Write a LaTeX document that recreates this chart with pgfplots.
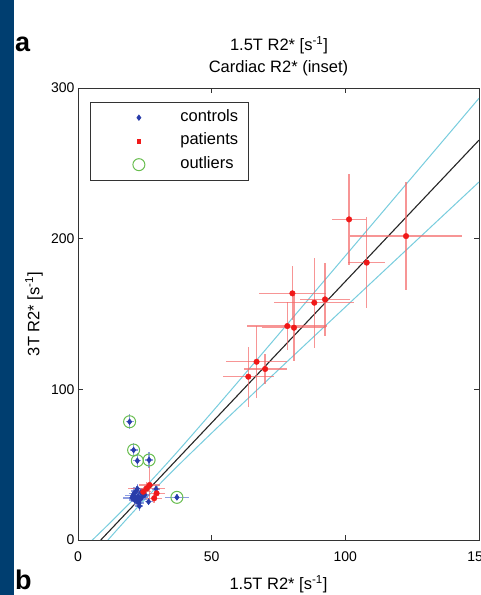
\documentclass[border=0pt]{standalone}
\usepackage{fontspec}
\setmainfont{Liberation Sans}
\usepackage{pgfplots}
\pgfplotsset{compat=1.18}
\usepackage{pgfplotstable}

\definecolor{panelblue}{RGB}{0,62,112}
\definecolor{ctrlblue}{RGB}{40,60,170}
\definecolor{ctrlbar}{RGB}{105,125,215}
\definecolor{patred}{RGB}{240,25,25}
\definecolor{patbar}{RGB}{245,105,105}
\definecolor{outgreen}{RGB}{105,190,80}
\definecolor{bandcyan}{RGB}{120,205,222}

\newcommand\ticklbl{\fontsize{14}{16.8}\selectfont}
\newcommand\lbl{\fontsize{16.5}{19.8}\selectfont}

% healthy volunteers: 1.5T R2*, 3T R2*, and their spreads
\pgfplotstableread{
x    y    ex   ey
19.3 78.5 1.5  5
20.8 59.7 1.5  4.5
22.2 52.6 1.5  5
26.6 53.1 1.5  5
37.0 28.3 4.4  2
20.5 29.5 3    3
21.0 31.0 2    4
21.5 28.0 2.5  3
21.8 32.5 2    3.5
22.0 26.0 2    4
22.5 29.0 3    3
22.8 24.5 2    3.5
23.2 27.0 2.5  3
23.5 31.5 2    3
22.2 34.0 2.5  3
24.0 28.5 2    2.5
21.2 26.5 2    3
26.4 25.4 1.5  2.5
29.2 33.8 1.5  2.5
25.0 30.0 2    3
20.2 28.0 3.5  2.5
23.0 22.5 1.5  3
}\controls

% patients
\pgfplotstableread{
x     y     ex   ey
63.7  108.4 9.5  20
66.8  118.3 11.5 24
70.0  113.5 8    10
78.3  142.0 15   16
80.8  140.9 12   22
80.2  163.7 12.5 18
88.4  157.5 15   30
92.4  159.7 9.3  24
101.4 212.8 6.5  30
108.0 184.1 7    30
122.7 201.7 21   36
24.4  32.0  3    3
25.7  34.3  7    4
26.8  36.5  4    12
29.4  31.0  3    3
28.5  27.7  3    3
}\patients

% points flagged as outliers
\pgfplotstableread{
x    y
19.3 78.5
20.8 59.7
22.2 52.6
26.6 53.1
37.0 28.3
}\outliers

\begin{document}
\begin{tikzpicture}
\useasboundingbox (0pt,0pt) rectangle (481pt,595pt);
\fill[white] (0pt,0pt) rectangle (481pt,595pt);
\fill[panelblue] (0pt,0pt) rectangle (14pt,595pt);

\begin{axis}[
  at={(78pt,55pt)}, anchor=south west,
  scale only axis, width=401pt, height=452pt,
  xmin=0, xmax=150, ymin=0, ymax=300,
  xtick={0,50,100,150}, ytick={0,100,200,300},
  tick align=inside, major tick length=5pt,
  axis line style={black!80, line width=0.8pt},
  every tick/.style={black!80, line width=0.8pt},
  tick label style={font=\ticklbl},
  /pgf/number format/assume math mode=true,
  xticklabel style={yshift=-8pt},
  title={Cardiac R2* (inset)},
  title style={font=\lbl, at={(axis description cs:0.5,1.0442)}, anchor=center, yshift=-6pt},
  xlabel={1.5T R2* [s\textsuperscript{-1}]},
  xlabel style={font=\lbl, at={(axis description cs:0.5,-0.0973)}, anchor=center},
  ylabel={3T R2* [s\textsuperscript{-1}]},
  ylabel style={font=\lbl, at={(axis description cs:-0.11,0.5)}, anchor=center},
  legend cell align=left,
  legend style={
    at={(axis description cs:0.0299,0.969)}, anchor=north west,
    draw=black!80, line width=0.8pt, font=\lbl,
    inner xsep=10pt, inner ysep=8pt, row sep=9pt,
    nodes={inner sep=0pt, text height=11pt, text depth=3.5pt},
  },
]
% regression line with its confidence band
\addplot[bandcyan, line width=1pt, smooth, forget plot] coordinates {
  (0,-9.20) (5,-0.67) (10,7.95) (15,16.71) (20,25.67) (25,34.90) (30,44.43)
  (35,54.23) (40,64.23) (50,84.60) (60,105.24) (70,126.00) (80,146.82)
  (90,167.69) (100,188.58) (110,209.48) (125,240.86) (140,272.25) (150,293.19)};
\addplot[bandcyan, line width=1pt, smooth, forget plot] coordinates {
  (0,-22.80) (5,-12.57) (10,-2.43) (15,7.57) (20,17.37) (25,26.90) (30,36.13)
  (35,45.09) (40,53.85) (50,71.00) (60,87.88) (70,104.64) (80,121.34)
  (90,137.99) (100,154.62) (110,171.24) (125,196.14) (140,221.03) (150,237.61)};
\addplot[black!85, line width=1.1pt, forget plot] coordinates {(0,-16) (150,265.4)};

\addplot[only marks, mark=diamond*, mark size=3pt, color=ctrlblue,
  legend image code/.code={\path (0pt,0pt) (79pt,0pt);
    \draw[ctrlblue, mark=diamond*, mark size=2.6pt] plot coordinates {(38pt,0pt)};},
  error bars/.cd, x dir=both, x explicit, y dir=both, y explicit, error mark=none,
  error bar style={ctrlbar, line width=1.4pt, opacity=0.75}]
  table[x=x, y=y, x error=ex, y error=ey] {\controls};
\addlegendentry{controls}

\addplot[only marks, mark=*, mark size=2.8pt, color=patred,
  legend image code/.code={\path (0pt,0pt) (79pt,0pt);
    \draw[patred, mark=square*, mark size=1.9pt] plot coordinates {(38pt,0pt)};},
  error bars/.cd, x dir=both, x explicit, y dir=both, y explicit, error mark=none,
  error bar style={patbar, line width=1.4pt, opacity=0.7}]
  table[x=x, y=y, x error=ex, y error=ey] {\patients};
\addlegendentry{patients}

\addplot[only marks, mark=o, mark size=6pt, color=outgreen, line width=1pt,
  legend image code/.code={\path (0pt,0pt) (79pt,0pt);
    \draw[outgreen, line width=1pt, mark=o, mark size=6pt] plot coordinates {(38pt,0pt)};}]
  table[x=x, y=y] {\outliers};
\addlegendentry{outliers}
\end{axis}

\node[font=\bfseries\fontsize{27}{30}\selectfont, anchor=west, inner sep=0pt] at (15pt,551pt) {a};
\node[font=\bfseries\fontsize{27}{30}\selectfont, anchor=west, inner sep=0pt] at (15pt,15pt) {b};
\node[font=\lbl] at (279pt,550pt) {1.5T R2* [s\textsuperscript{-1}]};
\end{tikzpicture}
\end{document}
